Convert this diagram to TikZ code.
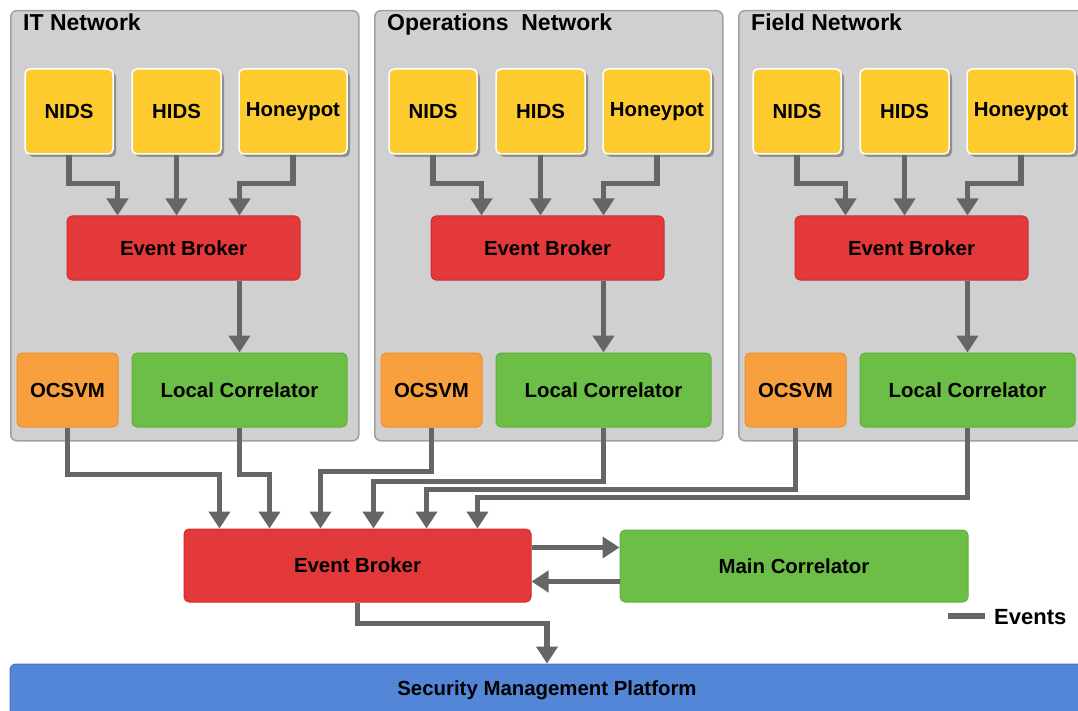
\documentclass[tikz,border=0pt]{standalone}
\usepackage{fontspec}
\setmainfont{Liberation Sans}
\usetikzlibrary{arrows.meta,shadows,calc}
\definecolor{panelfill}{HTML}{D0D0D0}
\definecolor{paneldraw}{HTML}{A0A0A0}
\definecolor{yel}{HTML}{FECB2F}
\definecolor{redf}{HTML}{E3393A}
\definecolor{redd}{HTML}{D42A2A}
\definecolor{grnf}{HTML}{6DBE46}
\definecolor{grnd}{HTML}{5FB03C}
\definecolor{orgf}{HTML}{F9A03E}
\definecolor{orgd}{HTML}{F08F2C}
\definecolor{bluf}{HTML}{5486D8}
\definecolor{blud}{HTML}{3F73CA}
\definecolor{arrowgray}{HTML}{666666}
\begin{document}
\begin{tikzpicture}[x=1pt,y=-1pt,
  lbl/.style={font=\fontsize{20.4}{24}\selectfont\bfseries, text=black, inner sep=0pt},
  panel/.style={draw=paneldraw, line width=1.5pt, fill=panelfill, rounded corners=6pt, anchor=north west, minimum width=348pt, minimum height=430pt},
  sensor/.style={lbl, fill=yel, draw=white, line width=1.5pt, rounded corners=5pt, minimum height=85pt,
     drop shadow={shadow xshift=3pt, shadow yshift=-3pt, fill=black!60, opacity=0.6}},
  broker/.style={lbl, fill=redf, draw=redd, line width=1pt, rounded corners=5pt},
  corr/.style={lbl, fill=grnf, draw=grnd, line width=1pt, rounded corners=5pt},
  svm/.style={lbl, fill=orgf, draw=orgd, line width=1pt, rounded corners=5pt},
  platform/.style={lbl, fill=bluf, draw=blud, line width=1pt, rounded corners=6pt},
  arr/.style={draw=arrowgray, line width=5.5pt, -{Triangle[width=21pt,length=17pt]}},
  legline/.style={draw=arrowgray, line width=5.5pt},
  ttl/.style={font=\fontsize{23}{27}\selectfont\bfseries, inner sep=0pt, anchor=base west}
]
\useasboundingbox (0,0) rectangle (1078,711);

\foreach \p/\dx/\title in {it/0/IT Network, op/364/Operations\ \ Network, fd/728/Field Network}{
  \node[panel] (\p-panel) at (10+\dx,10) {};
  \node[ttl] (\p-title) at (23+\dx,31) {\title};
  \node[sensor, minimum width=88pt] (\p-nids) at (69+\dx,111.5) {NIDS};
  \node[sensor, minimum width=89pt] (\p-hids) at (176.5+\dx,111.5) {HIDS};
  \node[sensor, minimum width=108pt] (\p-hp) at (293+\dx,111.5) {Honeypot};
  \node[broker, minimum width=233pt, minimum height=64pt] (\p-eb) at (183.5+\dx,248) {Event Broker};
  \node[svm, minimum width=101pt, minimum height=74pt] (\p-oc) at (67.5+\dx,390) {OCSVM};
  \node[corr, minimum width=215pt, minimum height=74pt] (\p-lc) at (239.5+\dx,390) {Local Correlator};
  \draw[arr] (\p-nids.south) -- ++(0,29) -| ($(\p-eb.north west)+(51,0)$);
  \draw[arr] (\p-hids.south) -- (\p-hids.south |- \p-eb.north);
  \draw[arr] (\p-hp.south) -- ++(0,29) -| ($(\p-eb.north west)+(173,0)$);
  \draw[arr] (\p-lc.north |- \p-eb.south) -- (\p-lc.north);
}

\node[broker, minimum width=347pt, minimum height=73pt] (eb) at (357.5,565.5) {Event Broker};
\node[corr, minimum width=348pt, minimum height=72pt] (mc) at (794,566) {Main Correlator};
\node[platform, minimum width=1074pt, minimum height=52pt] (bar) at (547,690) {Security Management Platform};

\draw[arr] (it-oc.south) -- ++(0,47) -| ($(eb.north west)+(36,0)$);
\draw[arr] (it-lc.south) -- ++(0,47) -| ($(eb.north west)+(86,0)$);
\draw[arr] (op-oc.south) -- ++(0,44) -| ($(eb.north west)+(137,0)$);
\draw[arr] (op-lc.south) -- ++(0,54) -| ($(eb.north west)+(190,0)$);
\draw[arr] (fd-oc.south) -- ++(0,62) -| ($(eb.north west)+(243,0)$);
\draw[arr] (fd-lc.south) -- ++(0,70) -| ($(eb.north west)+(294,0)$);

\draw[arr] ([yshift=-19pt]eb.north east) -- ([yshift=-19pt]eb.north east -| mc.west);
\draw[arr] ([yshift=-52pt]mc.north west) -- ([yshift=-52pt]mc.north west -| eb.east);
\draw[arr] (eb.south) -- ++(0,21) -| (bar.north);

\coordinate (lg1) at (948,616);
\coordinate (lg2) at (985,616);
\draw[legline] (lg1) -- (lg2);
\node[font=\fontsize{22}{26}\selectfont\bfseries, inner sep=0pt, anchor=west] (events) at (994,617) {Events};
\end{tikzpicture}
\end{document}
